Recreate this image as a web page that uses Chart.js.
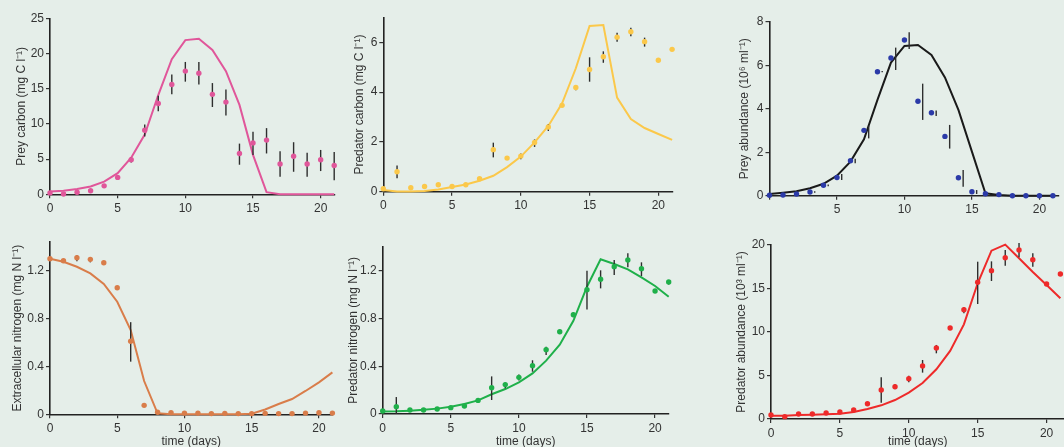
<!DOCTYPE html>
<html><head><meta charset="utf-8">
<script src="https://cdn.jsdelivr.net/npm/chart.js@4.4.0/dist/chart.umd.min.js"></script>
<style>
html,body{margin:0;padding:0;background:#e5eee9;width:1064px;height:447px;overflow:hidden;position:relative;}
canvas{position:absolute;}
</style></head><body>
<script>
// ---- data ----
const days = [0,1,2,3,4,5,6,7,8,9,10,11,12,13,14,15,16,17,18,19,20,21];

const preyCarbonObs = [0.2,0.05,0.3,0.5,1.2,2.4,4.9,9.1,12.9,15.6,17.5,17.2,14.2,13.1,5.8,7.3,7.7,4.3,5.4,4.3,4.9,4.1];
const preyCarbonLo  = [null,null,null,null,null,null,4.5,8.2,11.8,14.2,16.0,15.6,12.4,11.2,4.2,5.6,5.8,2.5,3.2,2.5,3.3,2.0];
const preyCarbonHi  = [null,null,null,null,null,null,5.3,9.9,14.0,17.0,18.8,18.8,15.8,14.9,7.2,8.9,9.4,6.1,7.4,5.9,6.3,6.0];
const preyCarbonModel = [0.4,0.5,0.75,1.1,1.8,3.0,5.2,8.5,14.1,19.2,21.9,22.1,20.5,17.5,12.7,5.6,0.3,0,0,0,0,0];

const predCarbonObs = [0.12,0.8,0.16,0.21,0.28,0.21,0.28,0.52,1.69,1.35,1.43,1.98,2.6,3.47,4.19,4.91,5.42,6.21,6.43,6.03,5.28,5.72];
const predCarbonLo  = [null,0.54,null,null,null,null,null,null,1.38,1.28,1.3,1.8,2.44,null,4.08,4.42,5.18,6.03,6.25,5.83,null,null];
const predCarbonHi  = [null,1.05,null,null,null,null,null,null,1.97,1.42,1.54,2.1,2.72,null,4.29,5.4,5.64,6.39,6.59,6.19,null,null];
const predCarbonModel = [0.07,0.01,0.01,0.03,0.09,0.19,0.29,0.44,0.64,0.99,1.41,1.98,2.64,3.55,4.96,6.66,6.7,3.78,2.92,2.56,2.32,2.08];

const preyAbundObs = [0.02,0.03,0.08,0.17,0.48,0.84,1.61,3.01,5.71,6.34,7.17,4.35,3.82,2.73,0.83,0.18,0.09,0.05,0,0,0,0];
const preyAbundLo  = [null,null,null,0.14,0.44,0.72,1.49,2.64,5.68,5.79,6.76,3.49,3.67,2.17,0.41,0.08,null,null,null,null,null,null];
const preyAbundHi  = [null,null,null,0.2,0.52,1.0,1.7,3.2,5.74,6.82,7.53,5.16,3.92,3.26,1.18,0.26,null,null,null,null,null,null];
const preyAbundModel = [0.08,0.14,0.21,0.34,0.55,0.92,1.57,2.6,4.41,6.13,6.9,6.94,6.48,5.45,3.95,2.03,0.11,0.03,0,0,0,0];

const extNObs = [1.3,1.283,1.308,1.295,1.267,1.058,0.61,0.075,0.017,0.014,0.01,0.01,0.006,0.008,0.006,0.006,0.008,0.006,0.006,0.01,0.013,0.01];
const extNLo  = [null,null,1.28,1.27,null,null,0.44,null,null,null,null,null,null,null,null,null,null,null,null,null,null,null];
const extNHi  = [null,null,1.33,1.31,null,null,0.77,null,null,null,null,null,null,null,null,null,null,null,null,null,null,null];
const extNModel = [1.3,1.275,1.233,1.178,1.089,0.941,0.704,0.278,0.008,0,0,0,0,0,0,0.005,0.04,0.086,0.128,0.195,0.267,0.35];

const predNObs = [0.025,0.061,0.034,0.034,0.042,0.053,0.067,0.114,0.22,0.246,0.307,0.405,0.539,0.689,0.832,1.041,1.128,1.234,1.289,1.217,1.03,1.105];
const predNLo  = [null,0,null,null,null,null,null,null,0.117,0.215,0.28,0.354,0.494,0.67,0.81,0.876,1.052,1.164,1.228,1.155,null,1.085];
const predNHi  = [null,0.142,null,null,null,null,null,null,0.315,0.263,0.33,0.45,0.564,0.706,0.85,1.2,1.203,1.29,1.345,1.27,null,1.12];
const predNModel = [0.02,0.022,0.028,0.036,0.045,0.061,0.084,0.114,0.165,0.209,0.265,0.34,0.447,0.58,0.78,1.066,1.295,1.256,1.211,1.144,1.072,0.982];

const predAbundObs = [0.46,0.27,0.57,0.57,0.69,0.8,1.03,1.76,3.33,3.72,4.64,6.09,8.16,10.46,12.57,15.71,17.05,18.54,19.43,18.31,15.52,16.67];
const predAbundLo  = [null,null,null,null,null,null,null,null,1.88,3.41,4.21,5.33,7.55,10.23,12.15,13.22,15.86,17.62,18.58,17.51,null,null];
const predAbundHi  = [null,null,null,null,null,null,null,null,4.79,3.98,4.98,6.78,8.51,10.69,12.84,18.08,18.12,19.43,20.23,19.04,null,null];
const predAbundModel = [0.38,0.38,0.46,0.5,0.54,0.61,0.8,1.15,1.57,2.18,3.03,4.14,5.71,7.82,10.88,15.6,19.35,20.04,18.47,16.9,15.4,13.87];

// ---- drawing ----
const FONT = {family:'"Liberation Sans", Arial, sans-serif', size:12};
const TXT = '#333333';

function pts(xs, ys){ return xs.map((x,i)=>({x:x, y:ys[i]})); }
function stepTicks(step, max){
  return (s)=>{
    const t = [];
    const n = Math.floor(max / step + 1e-9);
    for (let k = 0; k <= n; k++) t.push({value: Math.round(k * step * 1000) / 1000});
    s.ticks = t;
  };
}

function panel(c){
  const titleLeft = c.titleX - 7.2;
  const cx = Math.floor(titleLeft);
  const padL = titleLeft - cx;
  const Yw = c.L - titleLeft;
  const Xh = c.xTitle ? (449.2 - c.B) : 22;
  const cy = Math.floor(c.T - 10);
  const padT = c.T - cy;
  const totalB = c.B + Xh;
  const ch = Math.ceil(totalB - cy);
  const padB = cy + ch - totalB;
  const cw = Math.ceil(c.R + 8 - cx);
  const padR = cx + cw - c.R;

  const cv = document.createElement('canvas');
  cv.width = cw; cv.height = ch;
  cv.style.left = cx + 'px'; cv.style.top = cy + 'px';
  cv.style.width = cw + 'px'; cv.style.height = ch + 'px';
  document.body.appendChild(cv);

  const err = {
    id:'errbars',
    beforeDatasetDraw(chart, args){
      if (args.index !== 0) return;
      const ctx = chart.ctx, xs = chart.scales.x, ys = chart.scales.y;
      ctx.save();
      ctx.strokeStyle = '#2e2e2e';
      ctx.lineWidth = 1.4;
      c.lo.forEach((lo,i)=>{
        const hi = c.hi[i];
        if (lo == null || hi == null) return;
        const px = xs.getPixelForValue(days[i] + (c.errOffset || 0));
        ctx.beginPath();
        ctx.moveTo(px, ys.getPixelForValue(hi));
        ctx.lineTo(px, ys.getPixelForValue(lo));
        ctx.stroke();
      });
      ctx.restore();
    }
  };

  const grid = {drawOnChartArea:false, drawTicks:true, tickLength:4, color:'#333', lineWidth:1.2};
  const border = {display:true, color:'#222', width:1.6};

  new Chart(cv, {
    data:{
      datasets:[
        {type:'scatter', data:pts(days, c.obs), showLine:false, pointRadius:2.7, pointHoverRadius:2.7,
         pointBackgroundColor:c.dot || c.color, pointBorderWidth:0, clip:false},
        {type:'line', data:pts(days, c.model), borderColor:c.color, borderWidth:2, pointRadius:0,
         tension:0, fill:false, clip:false}
      ]
    },
    options:{
      responsive:false, animation:false, devicePixelRatio:1,
      layout:{padding:{left:padL, top:padT, right:padR, bottom:padB}},
      plugins:{legend:{display:false}, tooltip:{enabled:false}},
      scales:{
        x:{type:'linear', position:'bottom', min:0, max:c.xMax, bounds:'data',
           ticks:{autoSkip:false, maxRotation:0, padding:3,
                  font:FONT, color:TXT, callback:(v)=> (c.hideX0 && v===0) ? '' : String(v)},
           afterBuildTicks:stepTicks(5, c.xMax),
           grid:grid, border:border,
           title:{display:!!c.xTitle, text:'time (days)', padding:0, font:FONT, color:TXT},
           afterFit:(s)=>{ s.height = Xh; }},
        y:{type:'linear', position:'left', min:0, max:c.yMax, bounds:'data',
           ticks:{padding:2, font:FONT, color:TXT, callback:(v)=> String(v)},
           afterBuildTicks:stepTicks(c.yStep, c.yMax),
           grid:grid, border:border,
           title:{display:true, text:c.yTitle, padding:0, font:FONT, color:TXT},
           afterFit:(s)=>{ s.width = Yw; }}
      }
    },
    plugins:[err]
  });
}

panel({L:50, T:18.3, R:334.2, B:194.3, titleX:22, xMax:21, yMax:25, yStep:5,
  yTitle:'Prey carbon (mg C l⁻¹)', color:'#e0569a',
  obs:preyCarbonObs, lo:preyCarbonLo, hi:preyCarbonHi, model:preyCarbonModel});
panel({L:383.3, T:17.5, R:672.1, B:191.7, titleX:360, xMax:21, yMax:7, yStep:2,
  yTitle:'Predator carbon (mg C l⁻¹)', color:'#fbc84a',
  obs:predCarbonObs, lo:predCarbonLo, hi:predCarbonHi, model:predCarbonModel});
panel({L:769.5, T:22, R:1058.3, B:195.7, titleX:745, xMax:21.4, yMax:8, yStep:2, hideX0:true,
  yTitle:'Prey abundance (10⁶ ml⁻¹)', color:'#1a1a1a', dot:'#2b3aa8', errOffset:0.35,
  obs:preyAbundObs, lo:preyAbundLo, hi:preyAbundHi, model:preyAbundModel});
panel({L:50, T:242, R:332.4, B:414.3, titleX:18, xMax:21, yMax:1.44, yStep:0.4, xTitle:true,
  yTitle:'Extracellular nitrogen (mg N l⁻¹)', color:'#d97d4a',
  obs:extNObs, lo:extNLo, hi:extNHi, model:extNModel});
panel({L:382.7, T:246.8, R:668.7, B:414, titleX:354, xMax:21, yMax:1.4, yStep:0.4, xTitle:true,
  yTitle:'Predator nitrogen (mg N l⁻¹)', color:'#1fb04a',
  obs:predNObs, lo:predNLo, hi:predNHi, model:predNModel});
panel({L:771, T:245, R:1064.5, B:419, titleX:742, xMax:21.3, yMax:20, yStep:5, xTitle:true,
  yTitle:'Predator abundance (10³ ml⁻¹)', color:'#ee2a2a',
  obs:predAbundObs, lo:predAbundLo, hi:predAbundHi, model:predAbundModel});
</script></body></html>
